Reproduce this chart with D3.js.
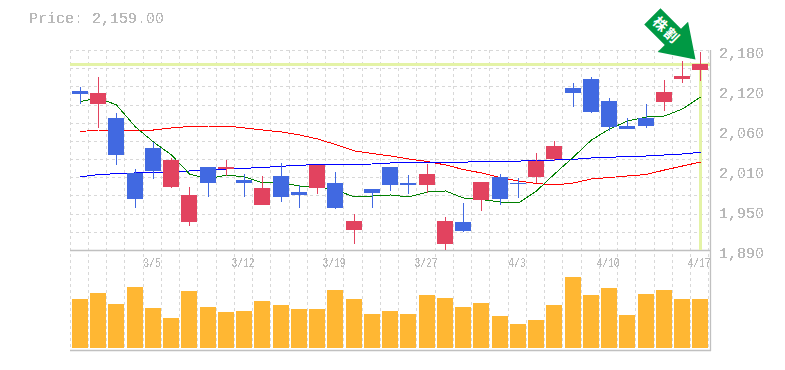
<!DOCTYPE html>
<html><head><meta charset="utf-8">
<script src="https://d3js.org/d3.v7.min.js"></script>
<style>html,body{margin:0;background:#fff}svg{display:block}</style>
</head><body><svg id="c" width="785" height="370"></svg>
<script>
const currentPrice = 2159;
const priceLabel = "Price: 2,159.00";
const badgeText = "株割";
const dates = ["2/27","2/28","3/1","3/2","3/5","3/6","3/7","3/8","3/9","3/12","3/13","3/14","3/15","3/16","3/19","3/20","3/22","3/23","3/26","3/27","3/28","3/29","3/30","4/2","4/3","4/4","4/5","4/6","4/9","4/10","4/11","4/12","4/13","4/16","4/17"];
const dateLabels = ["3/5","3/12","3/19","3/27","4/3","4/10","4/17"];
const priceTicks = [2180,2122,2064,2006,1948,1890];
const priceTickLabels = ["2,180","2,120","2,060","2,010","1,950","1,890"];
const open  = [2120.5,2102,2081,2002,2038,1981,1931,2010,2007,1991.5,1955,1997,1974,1980,1987,1919,1978,2010,1987,1984,1899,1931,1962.5,1996,1987,1996,2022,2125,2138,2106,2070,2081,2105,2138,2151];
const close = [2116,2118,2028,1964,2005,2020.5,1970,1987,2010,1987,1980,1967,1970,2013,1951,1932,1973,1984,1984,2000,1932,1917.5,1989,1964,1986,2019,2041,2118,2090,2068,2065.5,2070,2119,2142,2160];
const high  = [2126,2141,2089,2007,2047,2023,1981,2010,2020,2000,1997,2016,1984,2013,2003,1942,1978,2010,1999,2015,1938,1958,1989,2000,1994,2031,2048,2132,2141,2110,2081,2102,2136.5,2164,2177];
const low   = [2102,2067,2013,1951,1993,1980,1925,1967,1997,1967,1955,1960,1951,1971,1949.5,1899,1951,1976,1971,1973,1890,1916,1947,1955,1965,1987,2019,2097,2089,2063,2065.5,2067,2092,2132,2135];
const maShort = [2105.3,2110.4,2100.3,2068.4,2046.6,2027.8,2000.2,1993,1998.8,1995.9,1987.2,1987.2,1982.8,1982,1977,1966.9,1968.3,1969.8,1966.9,1974.1,1975.6,1965.4,1963.2,1959.6,1958.2,1975.6,2000.2,2024.9,2049.5,2065.5,2077,2082.9,2084.3,2094.5,2111.9];
const maMid = [2061.8,2064,2064,2064,2064,2066.9,2069.1,2069.8,2069.8,2066.9,2064,2061.1,2056.8,2051,2043,2033.6,2029.9,2026.3,2022,2018.3,2013.3,2006.7,2001.7,1995.1,1990,1986.4,1984.3,1987.2,1993,1995.1,1997.3,1999.5,2006,2011.8,2017.6];
const maLong = [1995.9,1999.5,2000.6,2001.7,2002.4,2003.1,2004.6,2006,2007.5,2008.5,2009.6,2011.4,2012.8,2014,2014.3,2014.4,2014.7,2016.2,2017.2,2017.2,2017.2,2017.2,2018.6,2018.8,2019,2019.3,2020.5,2021.5,2023.4,2024.4,2025.6,2026.3,2027.8,2029.2,2031.7];
const volume = [49,55,44,61,40,30,57,41,36,37,47,43,39,39,58,49,34,37,34,53,50,41,45,32,24,28,43,71,53,60,33,54,58,49,49];

const UP="#e2435f", DOWN="#4169e1", LIME="#e4f3a6", FRAME="#c0c0c0", GRID="#d8d8d8", TXT="#b9b9b9", BAR="#ffb733", BADGE="#009944";
const MONO="'Liberation Mono',monospace";
const svg = d3.select("#c");
// hard-edged text, as in the reference's unsmoothed rendering
const flt = svg.append("defs").append("filter").attr("id","hard").attr("x","-5%").attr("y","-20%").attr("width","110%").attr("height","140%");
flt.append("feComponentTransfer").append("feFuncA").attr("type","discrete").attr("tableValues","0 0 1 1 1");

const x = d3.scaleBand().domain(dates).range([70.3,709.05]);
const y = d3.scaleLinear().domain([1890,2180]).range([250,50]);
const yv = d3.scaleLinear().domain([0,98]).range([348,250]);
const cx = d => Math.floor(x(d)+2)+8;
const gridY = d3.range(0,12).map(i=>1890+i*290/11);

// grid
const g = svg.append("g").attr("stroke",GRID).attr("stroke-dasharray","3 3").attr("stroke-width",1);
g.selectAll(".v").data(dates).join("line").attr("x1",d=>Math.floor(x(d)-0.2)+0.5).attr("x2",d=>Math.floor(x(d)-0.2)+0.5).attr("y1",50).attr("y2",350);
g.append("line").attr("x1",708.5).attr("x2",708.5).attr("y1",50).attr("y2",350);
g.selectAll(".h").data(gridY.slice(1)).join("line").attr("x1",70).attr("x2",710).attr("y1",d=>Math.round(y(d))+0.5).attr("y2",d=>Math.round(y(d))+0.5);

// frame
const f = svg.append("g").attr("stroke",FRAME).attr("stroke-width",1.3);
f.append("line").attr("x1",70).attr("x2",711).attr("y1",250.5).attr("y2",250.5);
f.append("line").attr("x1",70).attr("x2",711).attr("y1",350.5).attr("y2",350.5);
f.append("line").attr("x1",710.5).attr("x2",710.5).attr("y1",50).attr("y2",351);

// current price markers
svg.append("rect").attr("x",70).attr("width",640).attr("y",y(currentPrice)-1.5).attr("height",3).attr("fill",LIME);
svg.append("rect").attr("x",cx(dates[34])-1).attr("width",3).attr("y",y(currentPrice)).attr("height",250-y(currentPrice)).attr("fill",LIME);

// volume
svg.append("g").attr("fill",BAR).selectAll("rect").data(volume).join("rect")
 .attr("x",(v,i)=>cx(dates[i])-8).attr("width",16).attr("y",v=>yv(v)).attr("height",v=>yv(0)-yv(v));

// moving averages
const line = d3.line().x((v,i)=>cx(dates[i])+0.5).y(v=>y(v));
[[maMid,"#ff0000"],[maLong,"#0000ff"],[maShort,"#008000"]].forEach(([s,c])=>{
  svg.append("path").attr("d",line(s)).attr("fill","none").attr("stroke",c).attr("stroke-width",1).attr("shape-rendering","crispEdges");
});

// candles
const cand = svg.append("g");
dates.forEach((d,i)=>{
  const col = close[i]>=open[i]?UP:DOWN;
  cand.append("rect").attr("x",cx(d)).attr("width",1).attr("y",Math.round(y(high[i]))).attr("height",Math.round(y(low[i]))-Math.round(y(high[i]))).attr("fill",col);
  const t=Math.round(y(Math.max(open[i],close[i]))), b=Math.round(y(Math.min(open[i],close[i])));
  cand.append("rect").attr("x",cx(d)-8).attr("width",16).attr("y",t).attr("height",Math.max(b-t,1)).attr("fill",col);
});

// y labels
const tg = svg.append("g").attr("filter","url(#hard)");
tg.selectAll(".yl").data(priceTicks).join("text")
 .attr("x",719).attr("y",v=>y(v)+8).text((v,i)=>priceTickLabels[i])
 .attr("font-family",MONO).attr("font-size",15).attr("fill",TXT);
// x labels
tg.selectAll(".xl").data(dateLabels).join("text")
 .attr("x",d=>cx(d)-1).attr("y",267).attr("text-anchor","middle").text(d=>d)
 .attr("textLength",d=>d.length*5.8).attr("lengthAdjust","spacingAndGlyphs")
 .attr("font-family",MONO).attr("font-size",13).attr("fill",TXT);
// title
tg.append("text").attr("x",29).attr("y",23).text(priceLabel).attr("font-family",MONO).attr("font-size",15).attr("fill",TXT);

// arrow badge: local frame has +x along the pointing direction
const tip=[695.5,59.5];
const a=svg.append("g").attr("transform",`translate(${tip[0]},${tip[1]}) rotate(45)`);
a.append("path").attr("d",d3.line()([[0,0],[-32,-21.5],[-32,-11.5],[-61,-11.5],[-61,11.5],[-32,11.5],[-32,21.5]])+"Z").attr("fill",BADGE);
a.append("text").attr("x",-41).attr("y",5).attr("text-anchor","middle").attr("letter-spacing",2)
 .attr("font-family","'Noto Sans CJK JP'").attr("font-size",14).attr("font-weight",700).attr("fill","#fff").text(badgeText);
</script></body></html>
